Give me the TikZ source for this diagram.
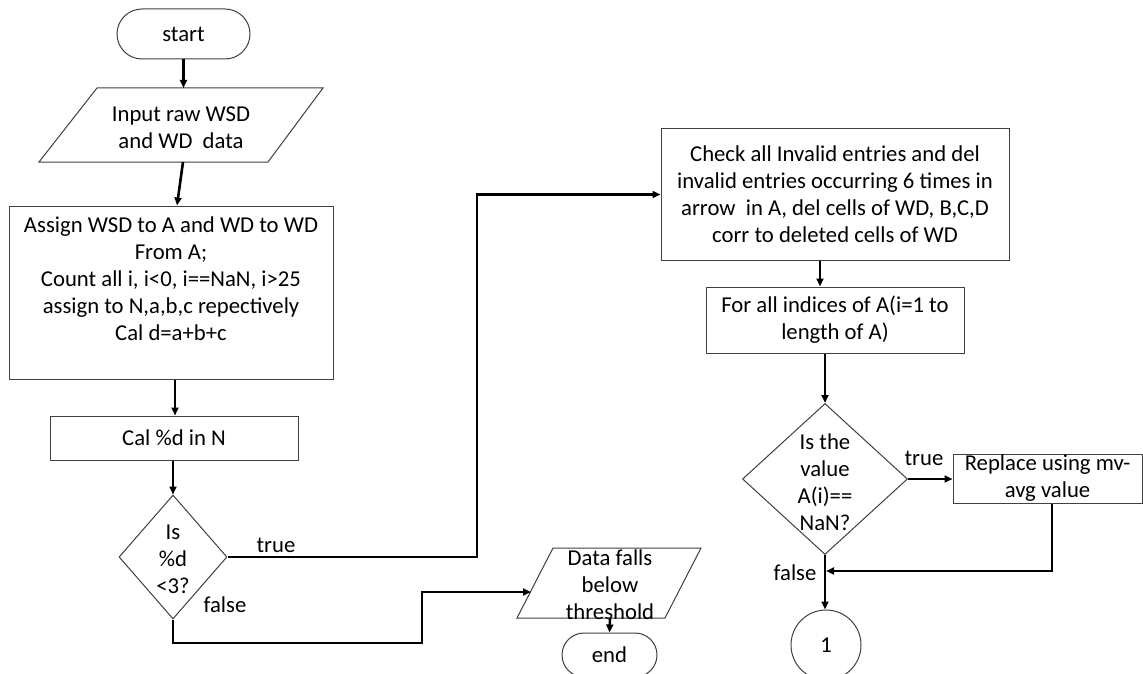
\documentclass[tikz,border=0pt]{standalone}
\usepackage{fontspec}
\setmainfont{Carlito}
\usetikzlibrary{arrows.meta,shapes.geometric,calc}
\begin{document}
\begin{tikzpicture}[x=1pt,y=-1pt,
  every node/.style={font=\fontsize{22.7}{27}\selectfont, text=black},
  box/.style={draw=black!75, line width=1pt, rectangle, inner sep=0pt, align=center},
  term/.style={box, rounded corners=22pt},
  dia/.style={draw=black!75, line width=1pt, diamond, inner sep=0pt},
  txt/.style={align=center, inner sep=0pt},
  shapeline/.style={draw=black!75, line width=1pt},
  conn/.style={line width=2.6pt, -{Triangle[length=8pt,width=7pt]}}
]
\useasboundingbox (0,0) rectangle (1143,674);
\fill[white] (0,0) rectangle (1143,674);

% left column
\node[term, rounded corners=25pt, minimum width=133pt, minimum height=50pt] (start) at (183.5,34) {start};
\draw[shapeline] (97,88) -- (323,88) -- (268,162) -- (39,162) -- cycle;
\node[txt] (inp) at (181,127.5) {Input raw WSD\\and WD\ \ data};
\coordinate (inpT) at (183.5,88);
\coordinate (inpB) at (183,162);
\draw[conn] (start.south) -- (inpT);

\node[box, minimum width=324pt, minimum height=173pt] (assign) at (171,292.5)
  {Assign WSD to A and WD to WD\\From A;\\Count all i, i<0, i==NaN, i>25\\assign to N,a,b,c repectively\\Cal d=a+b+c\\~};
\draw[conn] (inpB) -- ([xshift=6pt]assign.north);

\node[box, minimum width=248pt, minimum height=44pt] (cal) at (174,438) {Cal \%d in N};
\draw[conn] ([xshift=4pt]assign.south) -- ([xshift=4pt]assign.south |- cal.north);

\node[dia, minimum width=108pt, minimum height=124pt] (d1) at (173,557) {};
\node[txt] (d1t) at (173,559) {Is\\\%d\\<3?};
\draw[conn] (cal.south -| d1.north) -- (d1.north);
\node (tl1) at (276,545) {true};
\node (fl1) at (225,605) {false};

% right part
\node[box, minimum width=348pt, minimum height=131pt] (check) at (835,194.5)
  {Check all Invalid entries and del\\invalid entries occurring 6 times in\\arrow\ \ in A, del cells of WD, B,C,D\\corr to deleted cells of WD};
\coordinate (tk) at (477,194.5);
\draw[conn] (d1.east) -| (tk) -- (check.west);

\node[box, minimum width=258pt, minimum height=66pt] (forall) at (835,320)
  {For all indices of A(i=1 to\\length of A)};
\draw[conn] ([xshift=-15pt]check.south) -- ([xshift=-15pt]forall.north);

\node[dia, minimum width=165pt, minimum height=151pt] (d2) at (825,479) {};
\node[txt] (d2t) at (825,482) {Is the\\value\\A(i)==\\NaN?};
\draw[conn] (d2.north |- forall.south) -- (d2.north);

\node[box, minimum width=189pt, minimum height=49pt] (repl) at (1047.5,478.5) {Replace using mv-\\avg value};
\draw[conn] (d2.east) -- (d2.east -| repl.west);
\node (tl2) at (924,458) {true};

\node[draw=black!75, line width=1pt, circle, minimum size=70pt, inner sep=0pt] (c1) at (826,645) {1};
\draw[conn] (d2.south) -- (d2.south |- c1.north);
\coordinate (join) at (826,571);
\draw[conn] ([xshift=4.5pt]repl.south) |- (join);
\node (fl2) at (795,573) {false};

% data falls below threshold
\draw[shapeline] (553,548) -- (701,548) -- (665,618) -- (517,618) -- cycle;
\node[txt] (dataT) at (610,585) {Data falls\\below\\threshold};
\coordinate (dataIn) at (531,592);
\coordinate (dataB) at (610,618);
\coordinate (fk) at (422,643);
\draw[conn] (d1.south) |- (fk) |- (dataIn);

\node[term, minimum width=95pt, minimum height=44pt] (end) at (609.5,655) {end};
\draw[conn] (dataB) -- (end.north);
\end{tikzpicture}
\end{document}
